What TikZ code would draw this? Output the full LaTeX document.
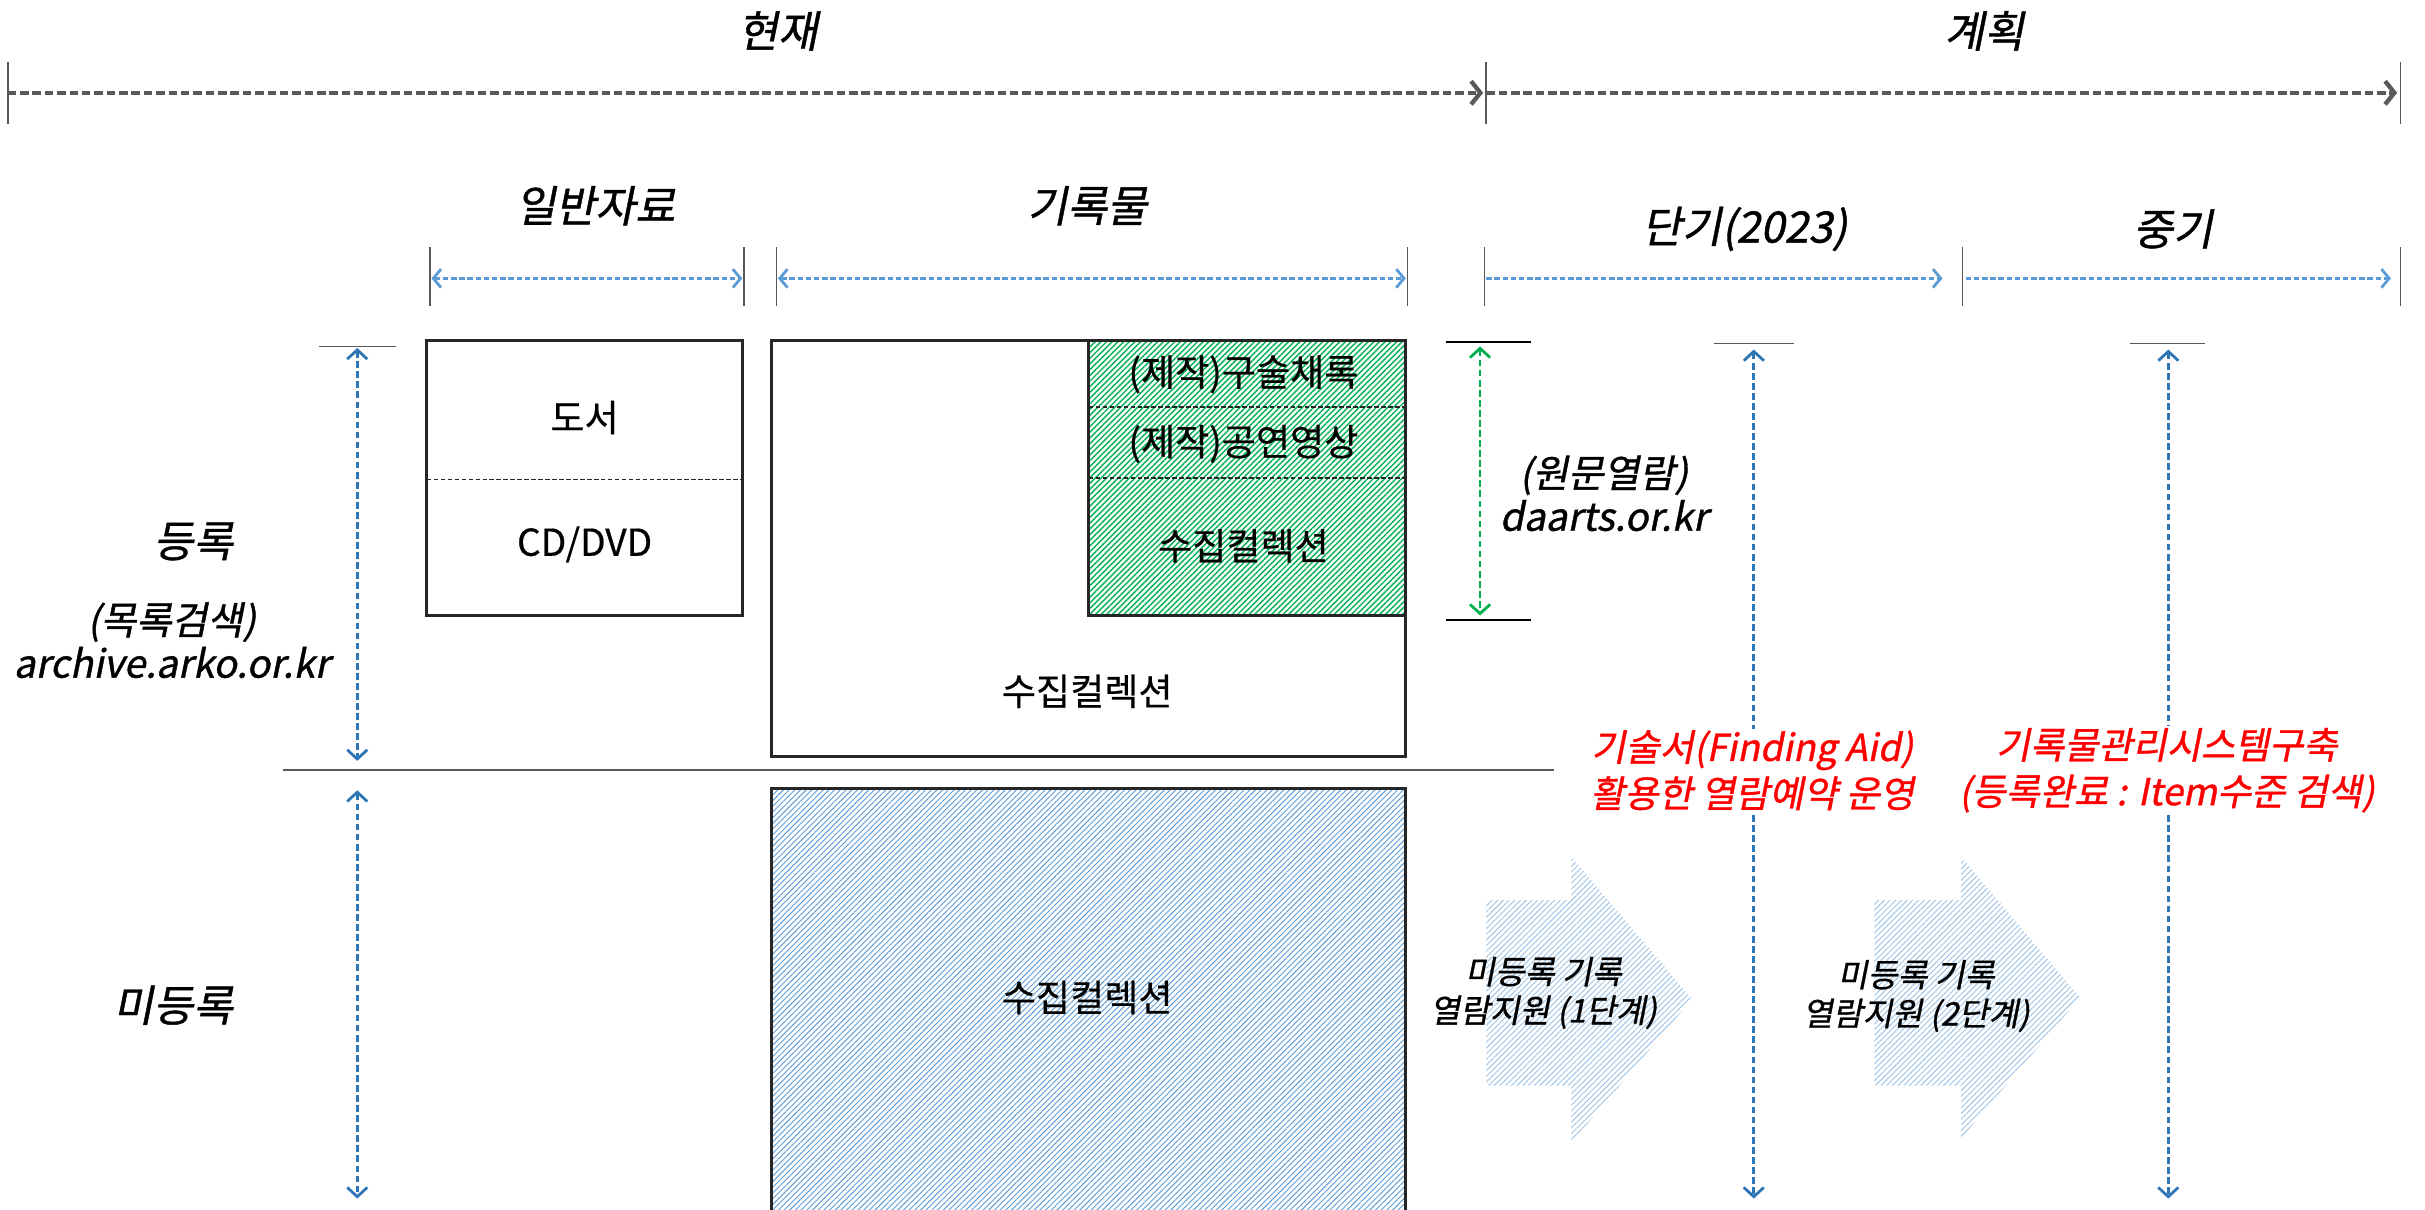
\documentclass[tikz,border=0pt]{standalone}
\usepackage{fontspec}
\setmainfont{Noto Sans CJK KR}[FakeBold=0.5]
\newfontfamily\slkr{Noto Sans CJK KR}[FakeSlant=0.2,FakeBold=1]
\usetikzlibrary{arrows.meta,patterns.meta}
\definecolor{tlgray}{HTML}{595959}
\definecolor{spanblue}{HTML}{5B9BD5}
\definecolor{axisblue}{HTML}{2E75B6}
\definecolor{webgreen}{HTML}{00B050}
\definecolor{paleblue}{HTML}{9DC3E6}
\definecolor{edgegray}{HTML}{262626}

\begin{document}
\begin{tikzpicture}[x=1pt,y=-1pt,
	head/.style={font=\slkr\fontsize{28}{32}\selectfont},
	side/.style={font=\slkr\fontsize{25}{28}\selectfont,align=center},
	boxtext/.style={font=\fontsize{24}{28}\selectfont},
	plannote/.style={font=\slkr\fontsize{24}{30}\selectfont,text=red,fill=white,align=center,inner sep=1pt},
	arrowtext/.style={font=\slkr\fontsize{21}{25}\selectfont,align=center},
	tick/.style={draw=tlgray,line width=1pt},
	box/.style={draw=edgegray,line width=1.8pt},
	sep/.style={draw=edgegray,line width=1pt,dash pattern=on 3pt off 1.5pt},
	timeline/.style={draw=tlgray,line width=2.8pt,dash pattern=on 5.5pt off 2.5pt,-{Straight Barb[length=6pt,width=15pt]}},
	span/.style={draw=spanblue,line width=1.8pt,dash pattern=on 3.5pt off 1.8pt},
	axis/.style={draw=axisblue,line width=1.8pt,dash pattern=on 4.3pt off 2.2pt,{Straight Barb[length=6pt,width=13pt]}-{Straight Barb[length=6pt,width=13pt]}},
	access/.style={draw=webgreen,line width=1.8pt,dash pattern=on 4.3pt off 2.2pt,{Straight Barb[length=6pt,width=13pt]}-{Straight Barb[length=6pt,width=13pt]}},
	hatch/.style={pattern={Lines[angle=45,distance=2.6pt,line width=#1]}},
	hatch/.default=0.9pt]
	\useasboundingbox (0,0) rectangle (1568,782);
	
	% time line
	\coordinate (t0) at (5,60);
	\coordinate (t1) at (961,60);
	\coordinate (t2) at (1552,60);
	\foreach \p in {t0,t1,t2} \draw[tick] (\p) ++(0,-20) -- ++(0,40);
	\draw[timeline] (t0) -- ([xshift=-2pt]t1);
	\draw[timeline] (t1) -- ([xshift=-2pt]t2);
	\node[head] (now) at (503,20) {현재};
	\node[head] (plan) at (1283,20) {계획};
	
	% spans
	\foreach \x in {278,481,502,910,960,1269,1552} \draw[tick] (\x,160) -- (\x,198);
	\coordinate (g0) at (279,180); \coordinate (g1) at (480,180);
	\coordinate (r0) at (503,180); \coordinate (r1) at (909,180);
	\coordinate (s0) at (961,180); \coordinate (s1) at (1256,180);
	\coordinate (m0) at (1271,180); \coordinate (m1) at (1546,180);
	\draw[span,{Straight Barb[length=5pt,width=12pt]}-{Straight Barb[length=5pt,width=12pt]}] (g0) -- (g1);
	\draw[span,{Straight Barb[length=5pt,width=12pt]}-{Straight Barb[length=5pt,width=12pt]}] (r0) -- (r1);
	\draw[span,-{Straight Barb[length=5pt,width=12pt]}] (s0) -- (s1);
	\draw[span,-{Straight Barb[length=5pt,width=12pt]}] (m0) -- (m1);
	\node[head] (general) at (385,133) {일반자료};
	\node[head] (records) at (703,133) {기록물};
	\node[head] (short) at (1128,148) {단기(2023)};
	\node[head] (middle) at (1405,148) {중기};
	
	% rows
	\draw[tick] (183,498) -- (1005,498);
	\coordinate (a0) at (231,225); \coordinate (a1) at (231,492);
	\coordinate (b0) at (231,511); \coordinate (b1) at (231,775);
	\draw[tick] (206,224) -- (256,224);
	\draw[axis] (a0) -- (a1);
	\draw[axis] (b0) -- (b1);
	\node[head] (reg) at (125,350) {등록};
	\node[side] (catalog) at (111,414) {(목록검색)\\archive.arko.or.kr};
	\node[head] (unreg) at (112,650) {미등록};
	
	% general materials
	\draw[box] (276,220) rectangle (480,398);
	\draw[sep] (276,310) -- (480,310);
	\node[boxtext] (book) at (378,270) {도서};
	\node[boxtext] (disc) at (378,352) {CD/DVD};
	
	% records
	\draw[box] (499,220) rectangle (909,489);
	\node[boxtext] (coll) at (703,447) {수집컬렉션};
	\fill[hatch,pattern color=webgreen] (704,220) rectangle (909,398);
	\draw[box] (704,220) rectangle (909,398);
	\draw[sep] (704,263) -- (909,263);
	\draw[sep] (704,309) -- (909,309);
	\node[boxtext] (oral) at (804,242) {(제작)구술채록};
	\node[boxtext] (stage) at (804,287) {(제작)공연영상};
	\node[boxtext] (collg) at (804,353) {수집컬렉션};
	
	\fill[hatch=0.6pt,pattern color=spanblue] (499,510) rectangle (909,800);
	\draw[box] (499,510) rectangle (909,800);
	\node[boxtext] (collb) at (703,645) {수집컬렉션};
	
	% original viewing
	\draw[tick,draw=black] (935,221) -- (990,221);
	\draw[tick,draw=black] (935,401) -- (990,401);
	\coordinate (w0) at (957,224); \coordinate (w1) at (957,398);
	\draw[access] (w0) -- (w1);
	\node[side] (daarts) at (1037,319) {(원문열람)\\daarts.or.kr};
	
	% plans
	\draw[tick] (1108,222) -- (1160,222);
	\draw[tick] (1377,222) -- (1426,222);
	\coordinate (p0) at (1134,226); \coordinate (p1) at (1134,775);
	\coordinate (q0) at (1402,226); \coordinate (q1) at (1402,775);
	\draw[axis] (p0) -- (p1);
	\draw[axis] (q0) -- (q1);
	\node[plannote] (finding) at (1133,498) {기술서(Finding Aid)\\활용한 열람예약 운영};
	\node[plannote] (system) at (1401,498) {기록물관리시스템구축\\(등록완료 : Item수준 검색)};
	
	\fill[hatch=0.6pt,pattern color=paleblue] (961,582) -- (1016,582) -- (1016,554) -- (1094,646) -- (1016,739) -- (1016,702) -- (961,702) -- cycle;
	\fill[hatch=0.6pt,pattern color=paleblue] (1212,582) -- (1268,582) -- (1268,554) -- (1345,645) -- (1268,736) -- (1268,702) -- (1212,702) -- cycle;
	\node[arrowtext] (step1) at (998,642) {미등록 기록\\열람지원 (1단계)};
	\node[arrowtext] (step2) at (1239,644) {미등록 기록\\열람지원 (2단계)};
	
\end{tikzpicture}
\end{document}
